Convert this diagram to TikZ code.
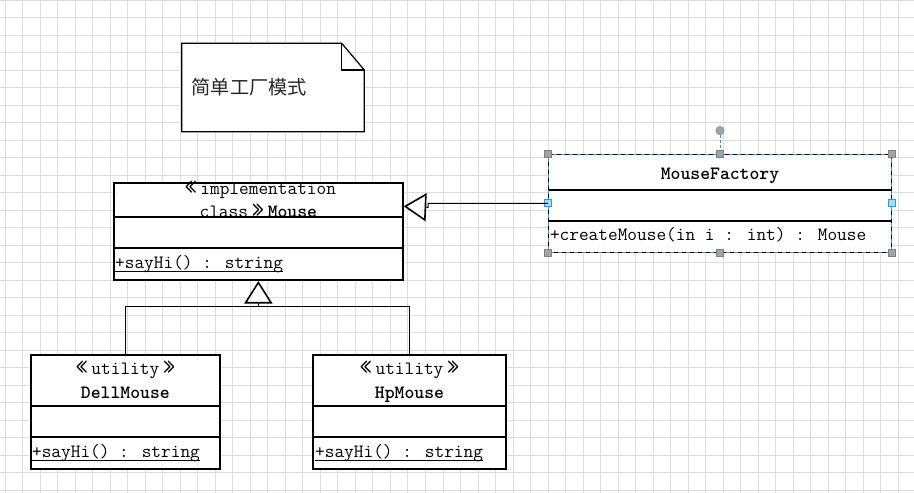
\documentclass[tikz,border=0pt]{standalone}
\usepackage{fontspec}
\newfontfamily\cjkfont{Noto Sans CJK SC}
\usetikzlibrary{arrows.meta,calc}
\definecolor{gridc}{HTML}{DCDCDC}
\definecolor{selblue}{HTML}{1E9BEF}
\definecolor{hblue}{HTML}{A8DCFF}
\definecolor{hgray}{HTML}{A3A3A3}
\definecolor{hgrayd}{HTML}{7F7F7F}
\newcommand\myLq{\makebox[1.05em][c]{\raisebox{-0.05em}{\scalebox{1.25}[1.45]{«}}}}
\newcommand\myRq{\makebox[1.05em][c]{\raisebox{-0.05em}{\scalebox{1.25}[1.45]{»}}}}
\begin{document}
\begin{tikzpicture}[x=1pt,y=-1pt,
  gridline/.style={draw=gridc,line width=0.8pt},
  classbox/.style={draw=black,line width=2pt,fill=white,inner sep=0pt},
  divider/.style={line width=2pt},
  conn/.style={line width=1pt},
  umltxt/.style={font=\ttfamily\fontsize{18.8}{22}\selectfont,inner sep=0pt},
  gentip/.style={-{Triangle[length=22.5pt,width=28pt,line width=1.6pt,fill=white]}},
  gh/.style={draw=hgrayd,fill=hgray,minimum size=7pt,inner sep=0pt,line width=0.5pt},
  bh/.style={draw=selblue,fill=hblue,minimum size=7pt,inner sep=0pt,line width=0.8pt},
  roth/.style={circle,draw=hgrayd,fill=hgray,minimum size=8.5pt,inner sep=0pt,line width=0.4pt}]
\useasboundingbox (0,0) rectangle (914,493);
\fill[white] (0,0) rectangle (914,493);
% grid
\foreach \i in {0,...,52} \draw[gridline] ({5+17.516*\i},0) -- ({5+17.516*\i},493);
\foreach \j in {0,...,28} \draw[gridline] (0,{17.5*\j}) -- (914,{17.5*\j});

% note
\draw[line width=1.2pt,fill=white] (181.7,43.3) -- (341.7,43.3) -- (364.3,70) -- (364.3,131.7) -- (181.7,131.7) -- cycle;
\draw[line width=1.2pt] (341.7,43.3) -- (341.7,70) -- (364.3,70);
\node[anchor=west,inner sep=0pt,font=\cjkfont\fontsize{19.2}{21}\selectfont,text=black!85] (notetext) at (191.5,86.7) {简单工厂模式};

% Mouse
\node[classbox,minimum width=288.7pt,minimum height=97.3pt] (mouse) at (258.35,231.35) {};
\draw[divider] ($(mouse.north west)+(0,35.6)$) -- ($(mouse.north east)+(0,35.6)$);
\draw[divider] ($(mouse.north west)+(0,66.6)$) -- ($(mouse.north east)+(0,66.6)$);
\node[umltxt,anchor=base] (mst) at (258.35,194.5) {\myLq implementation};
\node[umltxt,anchor=base] (mname) at (258.35,217.3) {class\myRq\textbf{Mouse}};
\node[umltxt,anchor=base west] (mop) at (115,268.3) {+sayHi() : string};
\draw[conn] ([yshift=-2.7pt]mop.base west) -- ([yshift=-2.7pt]mop.base east);

% MouseFactory
\node[draw=none,fill=white,inner sep=0pt,minimum width=343.4pt,minimum height=98pt] (factory) at (720,203.3) {};
\draw[divider] ($(factory.north west)+(0,35.7)$) -- ($(factory.north east)+(0,35.7)$);
\draw[divider] ($(factory.north west)+(0,66.7)$) -- ($(factory.north east)+(0,66.7)$);
\node[umltxt,anchor=base] (fname) at (720,179) {\textbf{MouseFactory}};
\node[umltxt,anchor=base west] (fop) at (549.8,240.7) {+createMouse(in i : int) : Mouse};
\draw[selblue,line width=1pt] (factory.north west) rectangle (factory.south east);
\draw[black,line width=1pt,dash pattern=on 4pt off 4pt] (factory.north west) rectangle (factory.south east);
\node[gh] (h1) at (factory.north west) {};
\node[gh] (h2) at (factory.north) {};
\node[gh] (h3) at (factory.north east) {};
\node[gh] (h4) at (factory.south west) {};
\node[gh] (h5) at (factory.south) {};
\node[gh] (h6) at (factory.south east) {};
\node[bh] (h7) at (factory.west) {};
\node[bh] (h8) at (factory.east) {};
\node[roth] (hrot) at ($(factory.north)+(0,-23.5)$) {};
\draw[selblue,line width=1pt,dash pattern=on 3pt off 2pt] (hrot) -- (h2);

% DellMouse
\node[classbox,minimum width=189.3pt,minimum height=114.6pt] (dell) at (125.35,412) {};
\draw[divider] ($(dell.north west)+(0,52.3)$) -- ($(dell.north east)+(0,52.3)$);
\draw[divider] ($(dell.north west)+(0,83.6)$) -- ($(dell.north east)+(0,83.6)$);
\node[umltxt,anchor=base] (dst) at (125.35,374.3) {\myLq utility\myRq};
\node[umltxt,anchor=base] (dname) at (125.35,398.3) {\textbf{DellMouse}};
\node[umltxt,anchor=base west] (dop) at (31.9,457.7) {+sayHi() : string};
\draw[conn] ([yshift=-2.6pt]dop.base west) -- ([yshift=-2.6pt]dop.base east);

% HpMouse
\node[classbox,minimum width=192.4pt,minimum height=114.6pt] (hp) at (409.5,412) {};
\draw[divider] ($(hp.north west)+(0,52.3)$) -- ($(hp.north east)+(0,52.3)$);
\draw[divider] ($(hp.north west)+(0,83.6)$) -- ($(hp.north east)+(0,83.6)$);
\node[umltxt,anchor=base] (hst) at (409.5,374.3) {\myLq utility\myRq};
\node[umltxt,anchor=base] (hname) at (409.5,398.3) {\textbf{HpMouse}};
\node[umltxt,anchor=base west] (hop) at (315,457.7) {+sayHi() : string};
\draw[conn] ([yshift=-2.6pt]hop.base west) -- ([yshift=-2.6pt]hop.base east);

% connectors
\coordinate (gj) at (258.35,306);
\draw[conn] (dell.north) |- (gj);
\draw[conn] (hp.north) |- (gj);
\draw[conn,gentip] (gj) -- (mouse.south);
\draw[conn,gentip] (factory.west) -- ++(-120,0) -- ++(0,4) -- ($(mouse.north east)+(0,24.6)$);
\end{tikzpicture}
\end{document}
